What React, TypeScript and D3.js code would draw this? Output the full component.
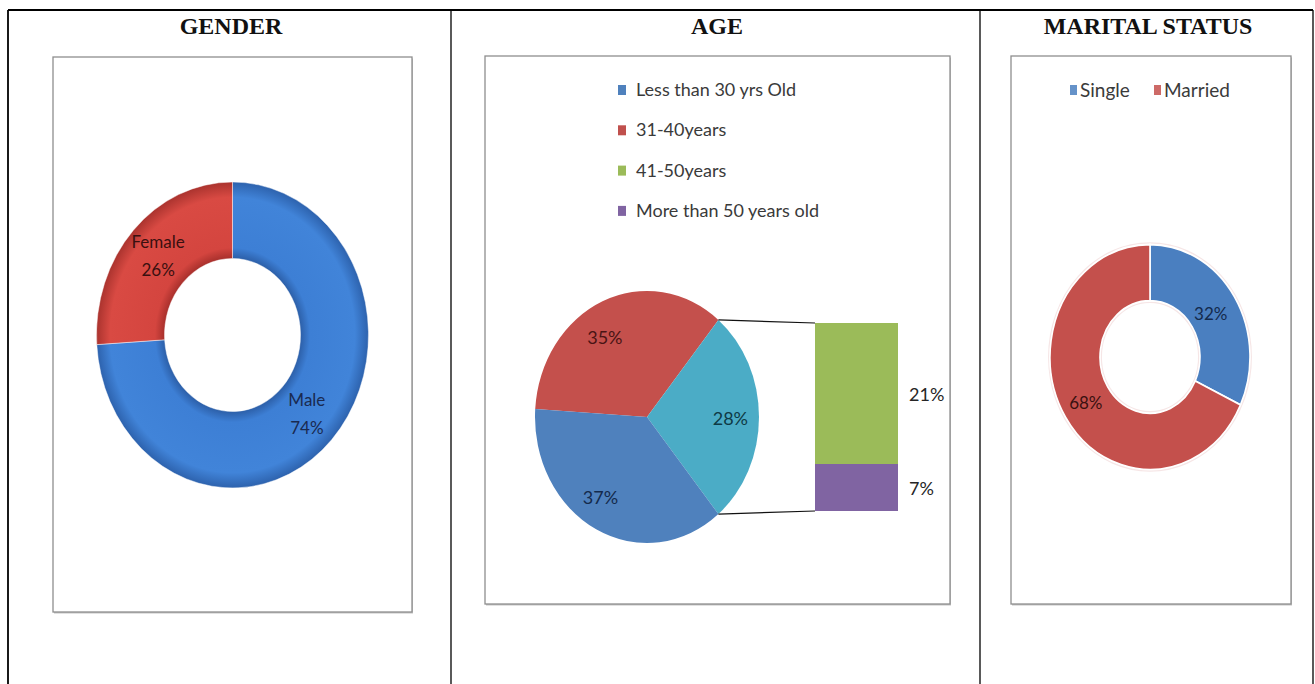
import React from "react";
import * as d3 from "d3";

const W = 1315;
const H = 684;
// The chart images are drawn a little taller than wide.
const STRETCH = 1.125;

const panelTitles = ["GENDER", "AGE", "MARITAL STATUS"];
const columnEdges = [8, 451, 980, 1313];

const genderCategories = ["Male", "Female"];
const genderValues = [74, 26];

const ageCategories = ["Less than 30 yrs Old", "31-40years", "41-50years", "More than 50 years old"];
const ageValues = [37, 35, 21, 7];

const maritalCategories = ["Single", "Married"];
const maritalValues = [32, 68];

const FONT = "Lato, 'Open Sans', sans-serif";

type Arc = d3.PieArcDatum<number>;

function Frame({ x, y, w, h }: { x: number; y: number; w: number; h: number }) {
  return (
    <g>
      <rect x={x + 1} y={y + 1.5} width={w} height={h} fill="#c4c4c4" />
      <rect x={x} y={y} width={w} height={h} fill="#fff" stroke="#8e8e8e" strokeWidth={1.3} />
    </g>
  );
}

function GenderRing() {
  const cx = 232.5, cy = 335, R = 136, r = 68;
  const arcs = d3.pie<number>().sort(null).value((d) => d)(genderValues);
  const arc = d3.arc<Arc>().innerRadius(r).outerRadius(R);
  const labelArc = d3.arc<Arc>().innerRadius(R * 0.75).outerRadius(R * 0.75);
  const fills = ["url(#gMale)", "url(#gFemale)"];
  const textColors = ["#1a2a50", "#3a1010"];
  return (
    <g>
      <defs>
        <radialGradient id="gMale" gradientUnits="userSpaceOnUse" cx={0} cy={0} r={R}>
          <stop offset={0.5} stopColor="#2c5fa8" />
          <stop offset={0.57} stopColor="#3d7fd5" />
          <stop offset={0.9} stopColor="#4184d9" />
          <stop offset={1} stopColor="#2d62ad" />
        </radialGradient>
        <radialGradient id="gFemale" gradientUnits="userSpaceOnUse" cx={0} cy={0} r={R}>
          <stop offset={0.5} stopColor="#a8302c" />
          <stop offset={0.57} stopColor="#d4453f" />
          <stop offset={0.9} stopColor="#d94a43" />
          <stop offset={1} stopColor="#aa332e" />
        </radialGradient>
      </defs>
      <g transform={`translate(${cx},${cy}) scale(1,${STRETCH})`}>
        {arcs.map((a, i) => (
          <path key={i} d={arc(a) || ""} fill={fills[i]} stroke="rgba(255,255,255,0.55)" strokeWidth={0.8} />
        ))}
      </g>
      {arcs.map((a, i) => {
        const [lx, ly] = labelArc.centroid(a);
        const x = cx + lx;
        const y = cy + ly * STRETCH;
        return (
          <g key={i} fontFamily={FONT} fontSize={17} fill={textColors[i]} textAnchor="middle">
            <text x={x} y={y - 8}>{genderCategories[i]}</text>
            <text x={x} y={y + 20}>{`${genderValues[i]}%`}</text>
          </g>
        );
      })}
    </g>
  );
}

function AgePieOfPie() {
  const cx = 647, cy = 417, R = 112;
  const total = d3.sum(ageValues);
  const other = ageValues[2] + ageValues[3];
  // main pie: 31-40, grouped "other", less than 30 (clockwise), with "other" centred at 3 o'clock
  const mainValues = [ageValues[1], other, ageValues[0]];
  const mainColors = ["#c4504c", "#4bacc6", "#4f81bd"];
  const mainText = ["#4a1414", "#0e3a45", "#142a4c"];
  const start = Math.PI / 2 - (2 * Math.PI * (ageValues[1] + other / 2)) / total;
  const arcs = d3.pie<number>().sort(null).value((d) => d).startAngle(start).endAngle(start + 2 * Math.PI)(mainValues);
  const arc = d3.arc<Arc>().innerRadius(0).outerRadius(R);
  const labelArc = d3.arc<Arc>().innerRadius(R * 0.7).outerRadius(R * 0.7);
  const labelNudge = [-11, 5, -11];

  const barX0 = 815, barX1 = 898;
  const y = d3.scaleLinear().domain([0, other]).range([511, 323]);
  const segs = [
    { v0: 0, v1: ageValues[3], color: "#8064a2", label: `${ageValues[3]}%` },
    { v0: ageValues[3], v1: other, color: "#9bbb59", label: `${ageValues[2]}%` },
  ];

  const edge = (a: number) => [cx + R * Math.sin(a), cy - R * STRETCH * Math.cos(a)];
  const oth = arcs[1];
  const [tx, ty] = edge(oth.startAngle);
  const [bx, by] = edge(oth.endAngle);

  const legendColors = ["#4f81bd", "#c0504d", "#9bbb59", "#8064a2"];

  return (
    <g>
      {/* legend */}
      {ageCategories.map((c, i) => {
        const base = 96 + i * 40.3;
        return (
          <g key={c}>
            <rect x={618} y={base - 11} width={8} height={10} fill={legendColors[i]} />
            <text x={636} y={base} fontFamily={FONT} fontSize={18} fill="#3a3a3a">{c}</text>
          </g>
        );
      })}
      <g transform={`translate(${cx},${cy}) scale(1,${STRETCH})`}>
        {arcs.map((a, i) => (
          <path key={i} d={arc(a) || ""} fill={mainColors[i]} />
        ))}
      </g>
      {arcs.map((a, i) => {
        const [lx, ly] = labelArc.centroid(a);
        return (
          <text key={i} x={cx + lx + labelNudge[i]} y={cy + ly * STRETCH + 8} textAnchor="middle"
            fontFamily={FONT} fontSize={18} fill={mainText[i]}>
            {`${mainValues[i]}%`}
          </text>
        );
      })}
      <line x1={tx} y1={ty} x2={barX0} y2={y(other)} stroke="#111" strokeWidth={1.2} />
      <line x1={bx} y1={by} x2={barX0} y2={y(0)} stroke="#111" strokeWidth={1.2} />
      {segs.map((s, i) => (
        <g key={i}>
          <rect x={barX0} y={y(s.v1)} width={barX1 - barX0} height={y(s.v0) - y(s.v1)} fill={s.color} />
          <text x={barX1 + 11} y={(y(s.v0) + y(s.v1)) / 2 + 7} fontFamily={FONT} fontSize={18} fill="#262626">
            {s.label}
          </text>
        </g>
      ))}
    </g>
  );
}

function MaritalRing() {
  const cx = 1150, cy = 357, R = 100, r = 50;
  const arcs = d3.pie<number>().sort(null).value((d) => d)(maritalValues);
  const arc = d3.arc<Arc>().innerRadius(r).outerRadius(R);
  const colors = ["#4a7fc0", "#c4504c"];
  const textColors = ["#142a4c", "#3a1010"];
  const labelR = [0.72, 0.76];
  const legendX = [1070, 1154];
  return (
    <g>
      {maritalCategories.map((c, i) => (
        <g key={c}>
          <rect x={legendX[i]} y={85} width={7} height={10} fill={colors[i]} opacity={0.85} />
          <text x={legendX[i] + 10} y={96.5} fontFamily={FONT} fontSize={19} fill="#3a3a3a">{c}</text>
        </g>
      ))}
      <g transform={`translate(${cx},${cy}) scale(1,${STRETCH})`}>
        <circle r={R + 1.2} fill="none" stroke="#f6e6e6" strokeWidth={1.5} />
        <circle r={r - 1.2} fill="none" stroke="#f6e6e6" strokeWidth={1.5} />
        {arcs.map((a, i) => (
          <path key={i} d={arc(a) || ""} fill={colors[i]} stroke="#fff" strokeWidth={1.6} />
        ))}
      </g>
      {arcs.map((a, i) => {
        const la = d3.arc<Arc>().innerRadius(R * labelR[i]).outerRadius(R * labelR[i]);
        const [lx, ly] = la.centroid(a);
        return (
          <text key={i} x={cx + lx} y={cy + ly * STRETCH + 6} textAnchor="middle"
            fontFamily={FONT} fontSize={17} fill={textColors[i]}>
            {`${maritalValues[i]}%`}
          </text>
        );
      })}
    </g>
  );
}

export default function App() {
  const centers = panelTitles.map((_, i) => (columnEdges[i] + columnEdges[i + 1]) / 2 + 1.5);
  return (
    <svg width={W} height={H} style={{ position: "absolute", left: 0, top: 0, background: "#fff" }}>
      <rect width={W} height={H} fill="#fff" />
      {/* table grid */}
      <line x1={columnEdges[0]} y1={10} x2={columnEdges[3]} y2={10} stroke="#000" strokeWidth={1.8} />
      {columnEdges.map((x, i) => (
        <line key={i} x1={x} y1={10} x2={x} y2={H} stroke="#000" strokeWidth={i === 0 ? 1.8 : 1.3} />
      ))}
      {panelTitles.map((t, i) => (
        <text key={t} x={centers[i]} y={34} textAnchor="middle" fontFamily="'Liberation Serif', 'Times New Roman', serif"
          fontWeight="bold" fontSize={24} fill="#111">
          {t}
        </text>
      ))}
      <Frame x={53} y={57} w={359} h={555} />
      <Frame x={485} y={56} w={465} h={548} />
      <Frame x={1011} y={56} w={280} h={548} />
      <GenderRing />
      <AgePieOfPie />
      <MaritalRing />
    </svg>
  );
}
